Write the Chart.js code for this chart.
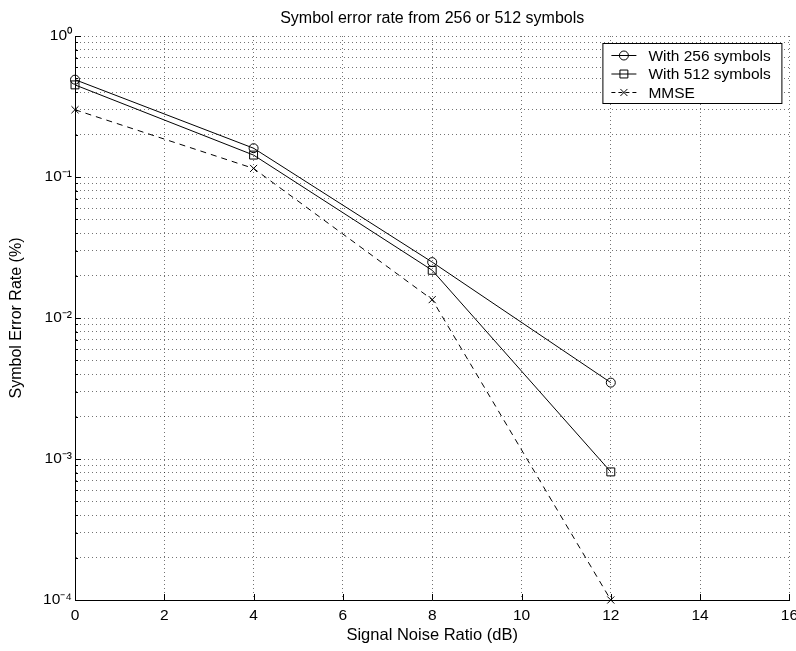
<!DOCTYPE html>
<html>
<head>
<meta charset="utf-8">
<style>
  html, body { margin: 0; padding: 0; background: #fff; }
  canvas { display: block; }
</style>
<script src="https://cdn.jsdelivr.net/npm/chart.js@4/dist/chart.umd.min.js"></script>
</head>
<body>
<canvas id="chart" width="796" height="651"></canvas>
<script>
const FONT = '"Liberation Sans", Arial, Helvetica, sans-serif';

// SNR points (dB)
const snr = [0, 4, 8, 12];
// symbol error rates
const ser256 = [0.49, 0.16, 0.0249, 0.00348];
const ser512 = [0.45, 0.143, 0.0218, 0.00081];
const serMmse = [0.30, 0.115, 0.0135, 0.0001];

const seriesLabels = ["With 256 symbols", "With 512 symbols", "MMSE"];
const xTicks = [0, 2, 4, 6, 8, 10, 12, 14, 16];
const decades = [1e-4, 1e-3, 1e-2, 1e-1, 1];

// log-scale ticks 1..9 in each decade
const yTicks = [];
decades.forEach((d, i) => {
  if (i === decades.length - 1) { yTicks.push(d); return; }
  for (let k = 1; k < 10; k++) yTicks.push(+(k * d).toPrecision(3));
});

const sup = { "0": "\u2070", "1": "\u00b9", "2": "\u00b2", "3": "\u00b3", "4": "\u2074", "-": "\u207b" };
function powLabel(v) {
  const e = Math.round(Math.log10(v));
  if (Math.abs(Math.log10(v) - e) > 1e-6) return "";
  return "10" + String(e).split("").map(c => sup[c]).join("");
}

const pts = arr => snr.map((x, i) => ({ x: x, y: arr[i] }));

const styles = [
  { pointStyle: "circle", radius: 4.5, dash: [] },
  { pointStyle: "rect", radius: 5.6, dash: [] },
  { pointStyle: "crossRot", radius: 5, dash: [6, 5] },
];

function drawMarker(ctx, style, x, y, r) {
  ctx.beginPath();
  if (style === "circle") {
    ctx.arc(x, y, r, 0, Math.PI * 2);
  } else if (style === "rect") {
    const s = r * Math.SQRT1_2;
    ctx.rect(x - s, y - s, 2 * s, 2 * s);
  } else {
    const o = r * Math.SQRT1_2;
    ctx.moveTo(x - o, y - o); ctx.lineTo(x + o, y + o);
    ctx.moveTo(x - o, y + o); ctx.lineTo(x + o, y - o);
  }
  ctx.stroke();
}

// inward tick marks like the original axes
const tickMarks = {
  id: "tickMarks",
  afterDatasetsDraw(chart) {
    const ctx = chart.ctx;
    const xs = chart.scales.x, ys = chart.scales.y;
    const a = chart.chartArea;
    ctx.save();
    ctx.strokeStyle = "#000";
    ctx.lineWidth = 1;
    ctx.beginPath();
    yTicks.forEach(v => {
      const py = Math.round(ys.getPixelForValue(v)) + 0.5;
      const len = powLabel(v) ? 6 : 3;
      ctx.moveTo(a.left, py); ctx.lineTo(a.left + len, py);
    });
    xTicks.forEach(v => {
      const px = Math.round(xs.getPixelForValue(v)) + 0.5;
      ctx.moveTo(px, a.bottom); ctx.lineTo(px, a.bottom - 6);
    });
    ctx.stroke();
    ctx.restore();
  }
};

// boxed legend in the top right corner
const boxLegend = {
  id: "boxLegend",
  afterDatasetsDraw(chart) {
    const ctx = chart.ctx;
    const a = chart.chartArea;
    const left = a.right - 187, top = a.top + 7, w = 179, h = 60;
    ctx.save();
    ctx.fillStyle = "#fff";
    ctx.fillRect(left, top, w, h);
    ctx.strokeStyle = "#000";
    ctx.lineWidth = 1;
    ctx.strokeRect(left + 0.5, top + 0.5, w, h);
    ctx.font = "15.5px " + FONT;
    ctx.textBaseline = "middle";
    ctx.fillStyle = "#000";
    seriesLabels.forEach((lab, i) => {
      const y = top + 12.5 + i * 18.5;
      const st = styles[i];
      ctx.setLineDash(st.dash.length ? [4, 3] : []);
      ctx.beginPath();
      ctx.moveTo(left + 9, y); ctx.lineTo(left + 34, y);
      ctx.stroke();
      ctx.setLineDash([]);
      drawMarker(ctx, st.pointStyle, left + 21.5, y, st.radius);
      ctx.fillText(lab, left + 46, y + 1);
    });
    ctx.restore();
  }
};

const ctx = document.getElementById("chart").getContext("2d");

new Chart(ctx, {
  type: "line",
  data: {
    datasets: [ser256, ser512, serMmse].map((arr, i) => ({
      label: seriesLabels[i],
      data: pts(arr),
      borderColor: "#000",
      borderWidth: 1,
      borderDash: styles[i].dash,
      pointStyle: styles[i].pointStyle,
      pointRadius: styles[i].radius,
      pointBorderColor: "#000",
      pointBorderWidth: 1,
      pointBackgroundColor: "rgba(0,0,0,0)",
      tension: 0,
      fill: false,
      clip: false,
    })),
  },
  options: {
    responsive: false,
    animation: false,
    events: [],
    layout: { padding: { left: 0, right: 6, top: 0, bottom: 0 } },
    plugins: {
      legend: { display: false },
      tooltip: { enabled: false },
      title: {
        display: true,
        fullSize: false,
        text: "Symbol error rate from 256 or 512 symbols",
        color: "#000",
        font: { family: FONT, size: 16, weight: "normal", lineHeight: 1.2 },
        padding: { top: 9.4, bottom: 7.4 },
      },
    },
    scales: {
      x: {
        type: "linear",
        min: 0,
        max: 16,
        afterBuildTicks: s => { s.ticks = xTicks.map(v => ({ value: v })); },
        afterFit: s => { s.height = 51; s.paddingLeft = 0; s.paddingRight = 0; },
        ticks: {
          color: "#000",
          padding: 6,
          maxRotation: 0,
          autoSkip: false,
          font: { family: FONT, size: 15.5 },
        },
        grid: { color: "rgba(0,0,0,0.55)", drawTicks: false, lineWidth: 1 },
        border: { display: true, color: "#000", width: 1, dash: [1, 3] },
        title: {
          display: true,
          text: "Signal Noise Ratio (dB)",
          color: "#000",
          font: { family: FONT, size: 16.5, lineHeight: 1.2 },
          padding: { top: 0, bottom: 5.2 },
        },
      },
      y: {
        type: "logarithmic",
        min: 1e-4,
        max: 1,
        afterBuildTicks: s => { s.ticks = yTicks.map(v => ({ value: v })); },
        afterFit: s => { s.width = 75; },
        ticks: {
          color: "#000",
          padding: 3,
          autoSkip: false,
          font: { family: FONT, size: 15.5 },
          callback: v => powLabel(v),
        },
        grid: { color: "rgba(0,0,0,0.55)", drawTicks: false, lineWidth: 1 },
        border: { display: true, color: "#000", width: 1, dash: [1, 3] },
        title: {
          display: true,
          text: "Symbol Error Rate (%)",
          color: "#000",
          font: { family: FONT, size: 16, lineHeight: 1.2 },
          padding: { top: 7, bottom: 0 },
        },
      },
    },
  },
  plugins: [tickMarks, boxLegend],
});
</script>
</body>
</html>
